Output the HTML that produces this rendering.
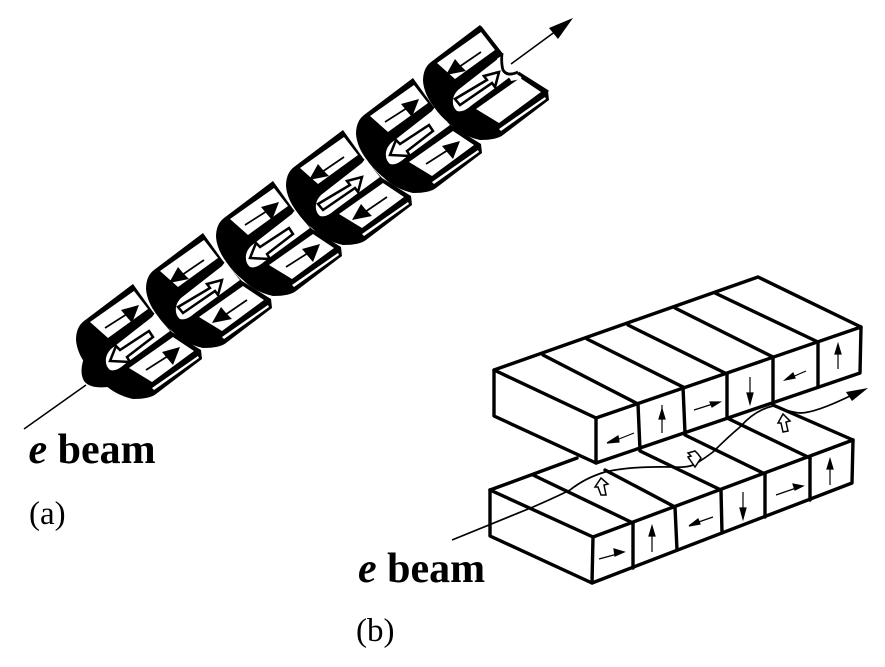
<!DOCTYPE html>
<html><head><meta charset="utf-8"><style>
html,body{margin:0;padding:0;background:#fff}
svg{display:block}
text{font-family:"Liberation Serif",serif;fill:#000}
</style></head><body>
<svg width="885" height="667" viewBox="0 0 885 667" xmlns="http://www.w3.org/2000/svg">
<defs>
<g id="body">
<path d="M84 321 L133 284 L153 312 L172 332 L201 350 L202 359 L156 394 Q150 399 133 399 Q115 395 103 383 Q93 375 87 366 Q77 353 76 340 Q76 327 84 321 Z" fill="#000"/>
<path d="M134 291 L148 309 L108 338 L90 322 Z" fill="#fff"/>
<path d="M152 317 L155 313 L170 331 L125 364 Q116 372 110 370 Q105 366 106 358 Q107 353 111 349 Z" fill="#fff"/>
<path d="M173 337 L194 351 L152 382 L129 368 Z" fill="#fff"/>
<path d="M198 356 L199 358 L154 390 L152 388 Z" fill="#fff"/>
</g>
<g id="ar"><line x1="105" y1="328" x2="127" y2="314" stroke="#000" stroke-width="1.7"/><path d="M139 305 L121 310 L126 316 L132 323 Z" fill="#000"/></g>
<g id="al"><line x1="134" y1="311" x2="112" y2="326" stroke="#000" stroke-width="1.7"/><path d="M99 334 L108 318 L113 324 L119 330 Z" fill="#000"/></g>
<path id="hl" d="M153 337 L127 357 L130 362 L110 361 L116 346 L120 350 L149 331 Z" fill="#fff" stroke="#000" stroke-width="2.5"/>
<path id="hr" d="M108 358 L113 364 L145 342 L148 346 L152 331 L137 335 L140 339 Z" fill="#fff" stroke="#000" stroke-width="2.5"/>
</defs>

<!-- (a) -->
<line x1="24" y1="429" x2="86" y2="385" stroke="#000" stroke-width="1.5"/>
<path d="M84 358 Q79 372 84 381 Q90 389 108 387 L110 378 Z" fill="#000"/>
<use href="#body"/><use href="#ar"/><use href="#hl"/><use href="#ar" x="41" y="42"/>
<g transform="translate(70,-51)"><use href="#body"/><use href="#al"/><use href="#hr"/><use href="#al" x="43" y="40"/></g>
<g transform="translate(140,-103)"><use href="#body"/><use href="#ar"/><use href="#hl"/><use href="#ar" x="41" y="42"/></g>
<g transform="translate(210,-154)"><use href="#body"/><use href="#al"/><use href="#hr"/><use href="#al" x="43" y="40"/></g>
<g transform="translate(280,-206)"><use href="#body"/><use href="#ar"/><use href="#hl"/><use href="#ar" x="41" y="42"/></g>
<g transform="translate(347,-259)"><use href="#body"/><use href="#al"/><use href="#hr"/>
<path d="M150 316 L158 310 L176 330 L174 338 L164 340 L150 330 Z" fill="#fff"/>
<path d="M171 332 L201 351 M163 338 L127 366 M133 286 L154 313 L109 344" fill="none" stroke="#000" stroke-width="3.4"/>
<use href="#hr"/>
<path d="M155 312 Q154 322 156 329 Q160 336 171 331" fill="none" stroke="#000" stroke-width="2.8"/>
</g>
<line x1="511" y1="64" x2="556" y2="31" stroke="#000" stroke-width="1.5"/>
<path d="M573 18 L549 28 L558 39 Z" fill="#000"/>

<!-- (b) lower block -->
<g stroke="#000" stroke-width="3.4" stroke-linejoin="round" stroke-linecap="round" fill="#fff">
<path d="M490 490 L577 458 L853 440 L852 483 L592 583 L490 536 Z" fill="#fff" stroke="none"/>
<path d="M490 490 L490 536 L592 583 L852 483 L853 440" fill="none"/>
<path d="M490 490 L593 537 L853 440" fill="none"/>
<path d="M490 490 L577 458" fill="none"/>
<path d="M533 475 L633 523 M605 470 L675 507 M640 451 L721 490 M685 435 L765 474 M727 418 L810 458 M773 405 L853 440" fill="none"/>
<path d="M593 537 L592 583 M633 523 L633 568 M675 507 L677 550 M721 490 L722 533 M765 474 L765 517 M810 458 L810 500" fill="none"/>
</g>
<!-- beam -->
<path d="M452 540 L533 507 Q556 497 570 490 Q585 478 605 472 Q630 466 673 467 Q690 468 697 463 Q705 458 713 452 Q728 437 740 427 Q755 410 773 406 Q790 412 800 413 Q815 413 850 396" fill="none" stroke="#000" stroke-width="1.7"/>
<path d="M868 388 L846 392 L852 401 Z" fill="#000"/>
<!-- upper block -->
<g stroke="#000" stroke-width="3.4" stroke-linejoin="round" stroke-linecap="round">
<path d="M494 370 L758 277 L861 327 L860 373 L596 463 L494 416 Z" fill="#fff"/>
<path d="M494 370 L596 418 L861 327" fill="none"/>
<path d="M543 355 L638 404 M587 339 L683 387 M628 325 L727 374 M675 308 L773 357 M715 293 L818 342" fill="none"/>
<path d="M596 418 L596 463 M638 404 L640 450 M683 387 L685 433 M727 374 L727 418 M773 357 L773 403 M818 342 L818 387" fill="none"/>
</g>
<!-- block arrows on gap -->
<path d="M601 478 L595 487 L598 487 L601 495 L606 495 L604 485 L608 484 Z" fill="#fff" stroke="#000" stroke-width="1.5"/>
<path d="M695 467 L688 457 L691 456 L688 453 L695 451 L698 454 L701 458 Z" fill="#fff" stroke="#000" stroke-width="1.5"/>
<path d="M783 414 L778 423 L781 423 L783 432 L788 431 L786 422 L790 421 Z" fill="#fff" stroke="#000" stroke-width="1.5"/>
<!-- small arrows in faces -->
<g stroke="#000" stroke-width="1.2" fill="#000">
<path d="M634 433 L614 441" fill="none"/><path d="M607 443 L618 436 L619 442 Z"/>
<path d="M662 433 L662 405" fill="none"/><path d="M662 409 L659 419 L665 419 Z"/>
<path d="M694 410 L716 403" fill="none"/><path d="M720 402 L710 402 L712 407 Z"/>
<path d="M750 377 L750 402" fill="none"/><path d="M750 404 L747 393 L753 393 Z"/>
<path d="M806 371 L790 378" fill="none"/><path d="M785 380 L793 373 L795 378 Z"/>
<path d="M838 369 L838 345" fill="none"/><path d="M838 344 L835 354 L841 354 Z"/>
<path d="M599 559 L621 553" fill="none"/><path d="M624 552 L614 549 L615 556 Z"/>
<path d="M652 552 L652 527" fill="none"/><path d="M652 526 L649 536 L655 536 Z"/>
<path d="M713 517 L690 525" fill="none"/><path d="M689 526 L698 519 L700 524 Z"/>
<path d="M743 492 L743 518" fill="none"/><path d="M743 519 L740 508 L746 508 Z"/>
<path d="M776 495 L802 486" fill="none"/><path d="M803 486 L793 484 L795 490 Z"/>
<path d="M830 485 L830 460" fill="none"/><path d="M830 459 L827 469 L833 469 Z"/>
</g>

<!-- text -->
<text x="28.5" y="463" font-size="42" font-weight="bold"><tspan font-style="italic">e</tspan> beam</text>
<text x="358" y="582" font-size="42" font-weight="bold"><tspan font-style="italic">e</tspan> beam</text>
<text x="29" y="524" font-size="33">(a)</text>
<text x="356" y="641" font-size="33">(b)</text>
</svg>
</body></html>
